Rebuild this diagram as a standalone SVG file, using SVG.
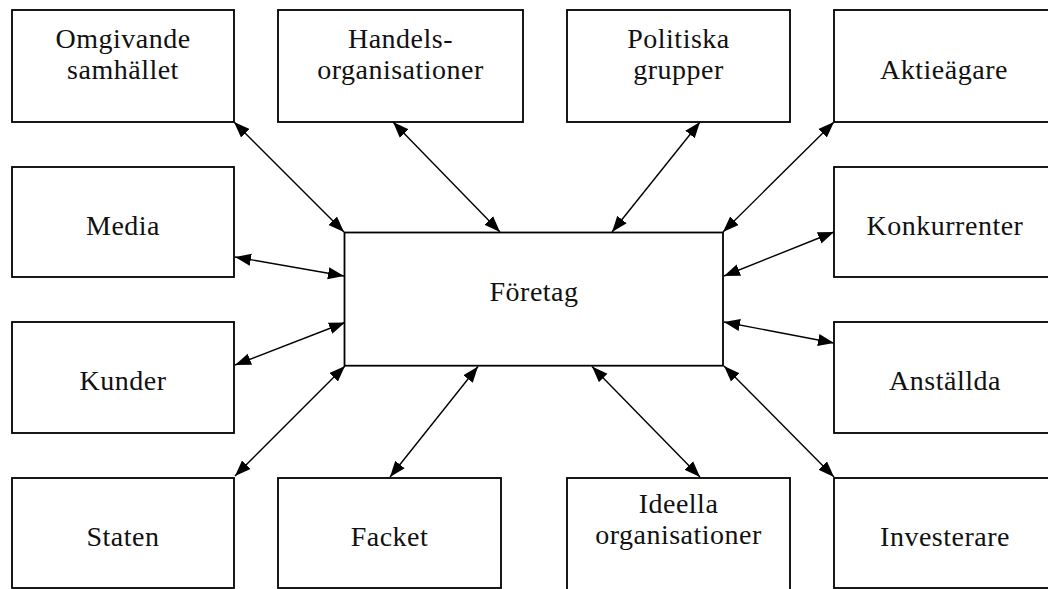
<svg xmlns="http://www.w3.org/2000/svg" width="1048" height="589" viewBox="0 0 1048 589">
<style>
.box{fill:#fff;stroke:#000;stroke-width:1.8}
.lbl{font-family:"Liberation Serif","Times New Roman",serif;font-size:28px;fill:#111;text-anchor:middle;letter-spacing:0.5px}
.con{stroke:#000;stroke-width:1.4;fill:none;marker-start:url(#ah);marker-end:url(#ah)}
</style>
<defs>
<marker id="ah" markerUnits="userSpaceOnUse" markerWidth="17" markerHeight="13" refX="16" refY="6" orient="auto-start-reverse" viewBox="0 0 17 12">
<path d="M0,0 L16,6 L0,12 z" fill="#000"/>
</marker>
</defs>
<g id="connectors">
<line class="con" x1="234" y1="122" x2="344" y2="232"/>
<line class="con" x1="235" y1="257" x2="344" y2="276"/>
<line class="con" x1="235" y1="365" x2="345" y2="322.5"/>
<line class="con" x1="235" y1="476" x2="345" y2="366"/>
<line class="con" x1="393" y1="122" x2="500" y2="232"/>
<line class="con" x1="700" y1="122" x2="612" y2="232"/>
<line class="con" x1="834" y1="122" x2="723" y2="232"/>
<line class="con" x1="834" y1="232" x2="724" y2="276"/>
<line class="con" x1="834" y1="343" x2="724" y2="322"/>
<line class="con" x1="834" y1="477" x2="724" y2="366"/>
<line class="con" x1="390" y1="477" x2="478" y2="366.5"/>
<line class="con" x1="700" y1="477" x2="592" y2="366.5"/>
</g>
<g id="foretag"><rect class="box" x="344.5" y="232.5" width="378.5" height="133.2"/><text class="lbl" x="534" y="301">Företag</text></g>
<g id="omgivande"><rect class="box" x="12" y="10" width="222" height="112"/><text class="lbl" x="123" y="48">Omgivande</text><text class="lbl" x="123" y="79">samhället</text></g>
<g id="handels"><rect class="box" x="278" y="10" width="245" height="112"/><text class="lbl" x="400.5" y="48">Handels-</text><text class="lbl" x="400.5" y="79">organisationer</text></g>
<g id="politiska"><rect class="box" x="567" y="10" width="223" height="112"/><text class="lbl" x="678.5" y="48">Politiska</text><text class="lbl" x="678.5" y="79">grupper</text></g>
<g id="aktieagare"><rect class="box" x="834" y="10" width="230" height="112"/><text class="lbl" x="944" y="79">Aktieägare</text></g>
<g id="media"><rect class="box" x="12" y="167" width="222" height="110"/><text class="lbl" x="123" y="235">Media</text></g>
<g id="konkurrenter"><rect class="box" x="834" y="167" width="230" height="110"/><text class="lbl" x="945" y="235">Konkurrenter</text></g>
<g id="kunder"><rect class="box" x="12" y="322" width="222" height="111"/><text class="lbl" x="123" y="390">Kunder</text></g>
<g id="anstallda"><rect class="box" x="834" y="322" width="230" height="111"/><text class="lbl" x="945" y="390">Anställda</text></g>
<g id="staten"><rect class="box" x="12" y="478" width="222" height="110"/><text class="lbl" x="123" y="546">Staten</text></g>
<g id="facket"><rect class="box" x="278" y="478" width="223" height="110"/><text class="lbl" x="389.5" y="546">Facket</text></g>
<g id="ideella"><rect class="box" x="567" y="478" width="223" height="130"/><text class="lbl" x="678.5" y="513">Ideella</text><text class="lbl" x="678.5" y="544">organisationer</text></g>
<g id="investerare"><rect class="box" x="834" y="478" width="230" height="110"/><text class="lbl" x="945" y="546">Investerare</text></g>
</svg>
